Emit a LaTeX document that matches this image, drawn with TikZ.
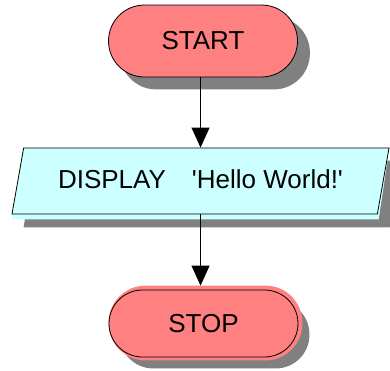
\documentclass[tikz,border=0pt]{standalone}
\usepackage{fontspec}
\setmainfont{Liberation Sans}
\usetikzlibrary{shapes.geometric,arrows.meta}
\pgfdeclarelayer{shade}
\pgfdeclarelayer{tint}
\pgfsetlayers{shade,tint,main}
\definecolor{termred}{RGB}{255,128,128}
\definecolor{iocyan}{RGB}{204,255,255}
\definecolor{shadegray}{RGB}{128,128,128}
\begin{document}
\begin{tikzpicture}[x=1pt,y=-1pt,
  label font/.style={font=\fontsize{26}{30}\selectfont},
  terminal/.style={rectangle, draw=black, line width=0.8pt, fill=termred,
    minimum width=189pt, inner sep=0pt, label font},
  io/.style={trapezium, trapezium left angle=80, trapezium right angle=100,
    trapezium stretches body, draw=black, line width=0.8pt, fill=iocyan,
    minimum width=377pt, text height=19pt, text depth=5pt,
    inner xsep=0pt, inner ysep=21pt, label font},
  flow/.style={-{Triangle[length=20pt,width=18pt]}, line width=1pt},
  shadow/.style={fill=shadegray}]
\useasboundingbox (0,0) rectangle (390,370);

% flowchart nodes
\node[terminal, minimum height=72pt, rounded corners=36pt] (start) at (203,41) {START};
\node[io] (disp) at (200.5,181) {DISPLAY\hspace{26pt}\textquotesingle Hello World!\textquotesingle};
\node[terminal, minimum height=67pt, rounded corners=33.5pt] (stop) at (203.5,323.5) {STOP};

% connectors, kept vertical
\draw[flow] (start.south -| disp.north) -- (disp.north);
\draw[flow, shorten >=4pt] (disp.south) -- (disp.south |- stop.north);

% drop shadows
\begin{pgfonlayer}{shade}
  \fill[shadow, rounded corners=36pt] ([shift={(12,12)}]start.south west) rectangle ([shift={(12,12)}]start.north east);
  \fill[shadow] ([shift={(12,13)}]disp.bottom left corner) -- ([shift={(12,13)}]disp.top left corner)
    -- ([shift={(12,13)}]disp.top right corner) -- ([shift={(12,13)}]disp.bottom right corner) -- cycle;
  \fill[shadow, rounded corners=33.5pt] ([shift={(11,11)}]stop.south west) rectangle ([shift={(11,11)}]stop.north east);
\end{pgfonlayer}

% offset fill edges
\begin{pgfonlayer}{tint}
  \fill[termred, rounded corners=37pt] ([shift={(0,3)}]stop.south west) rectangle ([shift={(4,-4)}]stop.north east);
  \fill[iocyan] (disp.top left corner) -- (disp.top right corner)
    -- ([shift={(1,5)}]disp.bottom right corner) -- ([shift={(0,5)}]disp.bottom left corner) -- cycle;
\end{pgfonlayer}
\end{tikzpicture}
\end{document}
